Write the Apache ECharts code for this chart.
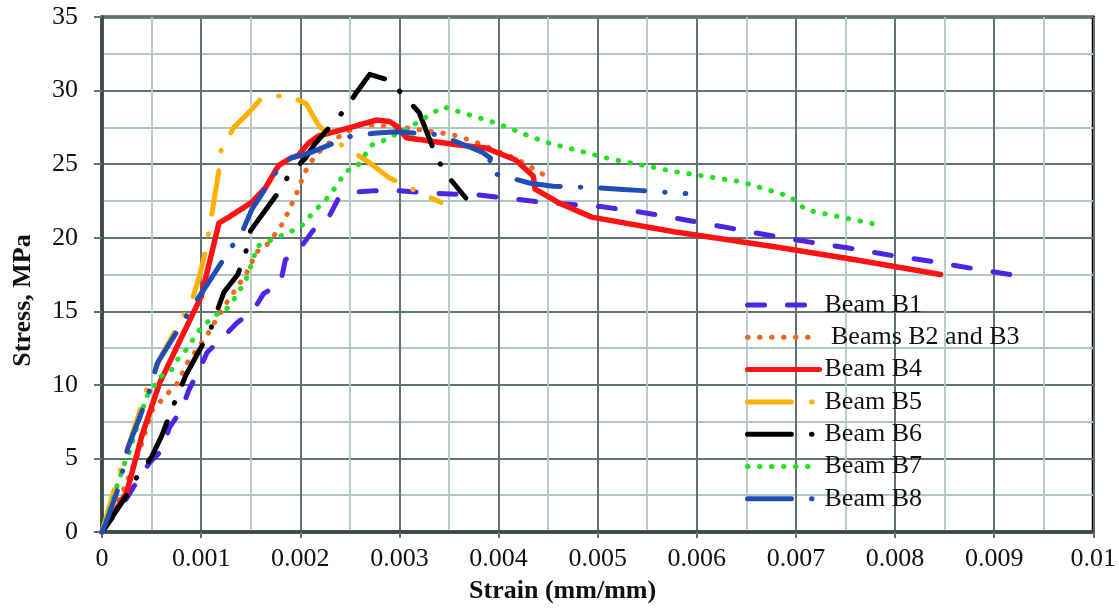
<!DOCTYPE html>
<html><head><meta charset="utf-8">
<script src="https://cdn.jsdelivr.net/npm/echarts@6/dist/echarts.min.js"></script>
<style>html,body{margin:0;padding:0;background:#fff}#c{width:1119px;height:615px}</style>
</head><body><div id="c"></div>
<script>
// Strain (mm/mm), Stress (MPa) pairs
const seriesNames = ['Beam B1', 'Beams B2 and B3', 'Beam B4', 'Beam B5', 'Beam B6', 'Beam B7', 'Beam B8'];
const xTicks = [0, 0.001, 0.002, 0.003, 0.004, 0.005, 0.006, 0.007, 0.008, 0.009, 0.01];
const yTicks = [0, 5, 10, 15, 20, 25, 30, 35];

const b1 = [[0,0],[0.00025,2.3],[0.00035,3.4],[0.00048,4.7],[0.00061,5.6],[0.00068,7.1],[0.0008,8.3],[0.00088,9.7],[0.00098,11.0],[0.00106,12.2],[0.0012,13.1],[0.00136,14.2],[0.00153,15.1],[0.00163,16.2],[0.0018,16.9],[0.00185,18.5],[0.002,19.3],[0.00213,20.5],[0.00228,21.3],[0.00238,22.6],[0.00256,23.1],[0.00276,23.2],[0.00297,23.2],[0.0034,23.0],[0.0038,22.9],[0.0042,22.6],[0.00444,22.4],[0.00505,22.1],[0.00547,21.7],[0.00589,21.2],[0.0063,20.7],[0.0067,20.2],[0.00714,19.7],[0.00753,19.3],[0.00796,18.8],[0.00836,18.4],[0.00879,17.9],[0.00925,17.4]];
const b2b3 = [[0,0],[0.0001,1.2],[0.0002,2.6],[0.0003,4.2],[0.0004,6.0],[0.00051,8.3],[0.00058,8.8],[0.00066,9.4],[0.00075,10.0],[0.00081,10.8],[0.00086,11.5],[0.00097,12.5],[0.00107,13.5],[0.00115,14.4],[0.00123,15.3],[0.00131,16.1],[0.00145,17.5],[0.00151,18.3],[0.00155,19.0],[0.00165,19.4],[0.00173,20.1],[0.0018,20.7],[0.00186,21.5],[0.00195,22.8],[0.002,23.6],[0.00203,24.3],[0.00209,24.9],[0.00215,25.6],[0.0023,26.5],[0.0026,27.7],[0.00304,27.5],[0.00354,27.0],[0.00377,26.5],[0.0042,25.3],[0.0045,24.1]];
const b4 = [[0,0],[0.00025,2.7],[0.0004,6.5],[0.00058,10.1],[0.0008,13.2],[0.001,16.0],[0.00109,18.5],[0.00118,21.0],[0.00128,21.4],[0.00151,22.4],[0.00165,23.4],[0.00178,24.9],[0.0019,25.4],[0.00198,25.6],[0.00208,26.4],[0.00218,26.9],[0.00251,27.5],[0.00277,28.0],[0.0029,27.9],[0.00297,27.6],[0.00307,26.8],[0.0036,26.3],[0.00387,26.1],[0.00417,25.3],[0.00435,24.2],[0.00437,23.3],[0.0046,22.4],[0.00494,21.4],[0.00577,20.4],[0.00677,19.4],[0.0076,18.5],[0.00846,17.5]];
const b5 = [[0,0],[0.00015,3.5],[0.0003,6.5],[0.00045,9.7],[0.0006,12.0],[0.0008,14.4],[0.00091,15.8],[0.00098,17.3],[0.00103,18.7],[0.00107,20.1],[0.00111,21.7],[0.00118,24.6],[0.0012,25.9],[0.00133,27.5],[0.00148,28.5],[0.00161,29.5],[0.00188,29.7],[0.00206,29.1],[0.00218,27.7],[0.0023,26.8],[0.0027,25.1],[0.00289,24.1],[0.0031,23.4],[0.00342,22.4]];
const b6 = [[0,0],[0.00025,2.5],[0.00035,3.7],[0.0005,5.1],[0.0006,6.5],[0.00076,9.3],[0.00085,10.7],[0.00097,12.2],[0.00108,13.5],[0.00123,16.3],[0.00137,17.5],[0.00145,19.0],[0.0015,20.5],[0.00176,22.9],[0.00188,24.2],[0.00205,25.4],[0.00215,26.4],[0.00245,28.7],[0.00256,29.8],[0.0027,31.1],[0.0029,30.7],[0.0032,28.5],[0.00335,25.9],[0.00345,24.5],[0.00367,22.7]];
const b7 = [[0,0],[0.00015,3.1],[0.00023,4.7],[0.00028,5.5],[0.00037,7.5],[0.00045,9.2],[0.0006,10.6],[0.0007,11.0],[0.00076,11.7],[0.00085,12.4],[0.00098,13.7],[0.00113,14.7],[0.00125,15.1],[0.00133,15.8],[0.00145,17.1],[0.00153,18.6],[0.00156,19.4],[0.00176,20.0],[0.002,20.7],[0.00213,21.7],[0.0023,22.9],[0.00246,24.5],[0.00258,24.9],[0.00272,26.3],[0.00284,26.6],[0.0031,27.5],[0.00344,28.9],[0.00397,27.8],[0.00447,26.5],[0.0051,25.4],[0.00577,24.5],[0.00645,23.8],[0.00694,22.8],[0.0071,21.9],[0.00781,20.9]];
const b8 = [[0,0],[0.00005,0.8],[0.00015,2.7],[0.00021,4.2],[0.00026,5.7],[0.00046,9.2],[0.0005,10.1],[0.00056,11.5],[0.0008,14.1],[0.00092,15.4],[0.00105,16.7],[0.0013,19.3],[0.00142,20.5],[0.00151,21.9],[0.00176,24.5],[0.0019,25.4],[0.00211,25.8],[0.00251,26.9],[0.00274,27.1],[0.00297,27.2],[0.0034,27.0],[0.00362,26.4],[0.00384,25.8],[0.00392,25.4],[0.00389,24.7],[0.00393,24.4],[0.0041,24.1],[0.00432,23.7],[0.00455,23.5],[0.00497,23.4],[0.00522,23.3],[0.00545,23.2],[0.00589,23.0]];

const seriesData = [b1, b2b3, b4, b5, b6, b7, b8];
const colors = ['#4b26e4', '#f2661f', '#ff1212', '#ffb000', '#000000', '#22e022', '#1f4fb6'];
const dashes = [[17, 23], [0.5, 11.5], 'solid', [44, 20, 0.5, 20], [44, 20, 0.5, 20], [0.5, 11.5], [44, 20, 0.5, 20]];
const widths = [5, 5, 5.5, 5, 5, 5, 5];

const FONT = '"Liberation Serif", "Times New Roman", serif';
const chart = echarts.init(document.getElementById('c'), null, {renderer: 'canvas'});
chart.setOption({
  animation: false,
  backgroundColor: '#fff',
  grid: {left: 102, right: 15, top: 17, bottom: 83, show: true, borderColor: '#000', borderWidth: 3, backgroundColor: 'transparent'},
  xAxis: {
    type: 'value', min: 0, max: 0.01, interval: 0.001,
    name: 'Strain (mm/mm)', nameLocation: 'middle', nameGap: 46,
    nameTextStyle: {fontFamily: FONT, fontSize: 26, fontWeight: 'bold', color: '#111', padding: [0, 70, 0, 0]},
    axisLine: {show: true, onZero: false, lineStyle: {color: '#3b4747', width: 3.5}},
    axisTick: {show: true, length: 6, lineStyle: {color: '#5f7171', width: 2}},
    axisLabel: {fontFamily: FONT, fontSize: 26, color: '#111', margin: 14,
      formatter: v => String(+v.toFixed(4))},
    splitLine: {show: true, lineStyle: {color: '#607272', width: 2}},
    minorTick: {show: false, splitNumber: 2},
    minorSplitLine: {show: true, lineStyle: {color: '#b3c6c6', width: 1.8}}
  },
  yAxis: {
    type: 'value', min: 0, max: 35, interval: 5,
    name: 'Stress, MPa', nameLocation: 'middle', nameGap: 66,
    nameTextStyle: {fontFamily: FONT, fontSize: 26, fontWeight: 'bold', color: '#111', padding: [0, 52, 0, 0]},
    axisLine: {show: true, lineStyle: {color: '#3b4747', width: 3.5}},
    axisTick: {show: true, length: 8, lineStyle: {color: '#5f7171', width: 2}},
    axisLabel: {fontFamily: FONT, fontSize: 26, color: '#111', margin: 24},
    splitLine: {show: true, lineStyle: {color: '#607272', width: 2}},
    minorTick: {show: false, splitNumber: 2},
    minorSplitLine: {show: true, lineStyle: {color: '#b3c6c6', width: 1.8}}
  },
  legend: {
    orient: 'vertical', left: 740, top: 287, itemWidth: 72, itemHeight: 14, itemGap: 6.3,
    data: seriesNames,
    formatter: n => n === 'Beams B2 and B3' ? ' ' + n : n,
    itemStyle: {color: 'rgba(0,0,0,0)', borderColor: 'rgba(0,0,0,0)', borderWidth: 0, opacity: 0},
    lineStyle: {width: 5, cap: 'round'},
    textStyle: {fontFamily: FONT, fontSize: 26, color: '#111', lineHeight: 26}
  },
  series: seriesNames.map((n, i) => ({
    name: n, type: 'line', data: seriesData[i], symbol: 'none', smooth: false,
    color: colors[i],
    lineStyle: {color: colors[i], width: widths[i], type: dashes[i], cap: 'round', join: 'round'},
    z: 3 + i
  }))
});
</script></body></html>
